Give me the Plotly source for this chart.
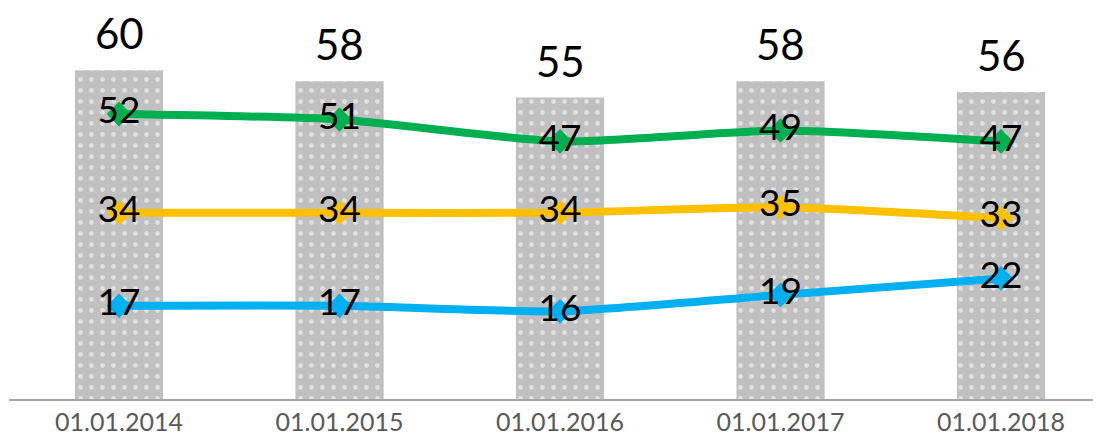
import plotly.graph_objects as go

categories = ["01.01.2014", "01.01.2015", "01.01.2016", "01.01.2017", "01.01.2018"]
total = [60, 58, 55, 58, 56]
green_vals = [52, 51, 47, 49, 47]
yellow_vals = [34, 34, 34, 35, 33]
blue_vals = [17, 17, 16, 19, 22]

x = list(range(len(categories)))
FONT = "Lato"

fig = go.Figure()
fig.add_trace(go.Bar(
    x=x, y=total, width=0.4,
    marker=dict(color="#C0C0C0", line=dict(width=0),
                pattern=dict(shape=".", fgcolor="#FFFFFF", bgcolor="#C0C0C0",
                             size=11, solidity=0.15)),
    showlegend=False, hoverinfo="skip",
))

for vals, col in [(green_vals, "#00B050"), (yellow_vals, "#FFC000"), (blue_vals, "#00B0F0")]:
    fig.add_trace(go.Scatter(
        x=x, y=vals, mode="lines+markers+text",
        line=dict(color=col, width=8, shape="spline", smoothing=0.6),
        marker=dict(symbol="diamond", size=19, color=col),
        text=[str(v) for v in vals], textposition="middle center",
        textfont=dict(family=FONT, size=37, color="#000000"),
        showlegend=False, hoverinfo="skip",
    ))

for xi, v in zip(x, total):
    fig.add_annotation(x=xi, y=v, text=str(v), showarrow=False,
                       yanchor="middle", yshift=37, height=40,
                       font=dict(family=FONT, size=42, color="#000000"))

fig.update_layout(
    width=1093, height=436,
    margin=dict(l=1, r=0, t=0, b=45),
    plot_bgcolor="white", paper_bgcolor="white",
    xaxis=dict(range=[-0.499, 4.4534], tickvals=x, ticktext=categories,
               showgrid=False, zeroline=False, showline=True,
               linecolor="#A6A6A6", linewidth=2, ticks="",
               tickfont=dict(family=FONT, size=25, color="#595959")),
    yaxis=dict(range=[0, 71.35], visible=False, showgrid=False, zeroline=False),
)

fig.write_html("out.html")
